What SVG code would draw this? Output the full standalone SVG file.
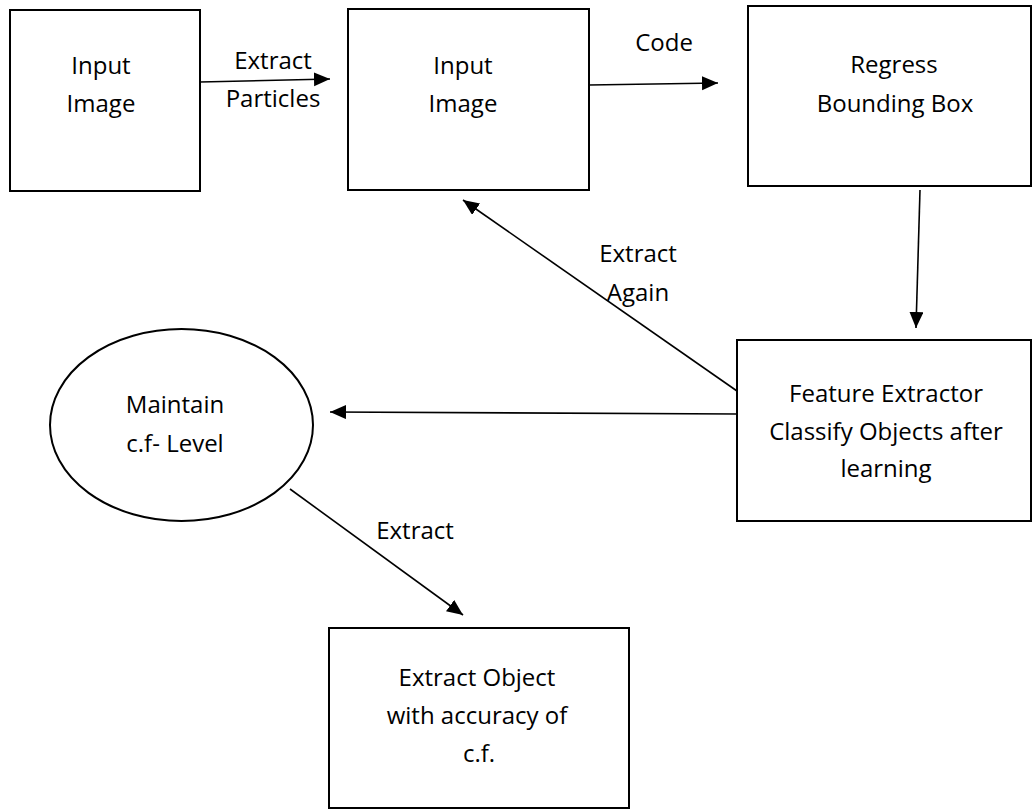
<svg xmlns="http://www.w3.org/2000/svg" width="1033" height="810" viewBox="0 0 1033 810">
  <defs>
    <marker id="arrow" markerUnits="userSpaceOnUse" markerWidth="17" markerHeight="15" refX="16" refY="7" orient="auto">
      <path d="M0,0 L16,7 L0,14 z" fill="#000"/>
    </marker>
    <style>
      .box { fill: #fff; stroke: #000; stroke-width: 2; }
      .conn { stroke: #000; stroke-width: 1.6; fill: none; marker-end: url(#arrow); }
      text { font-family: "Open Sans", "Liberation Sans", sans-serif; font-size: 24px; fill: #000; text-anchor: middle; }
    </style>
  </defs>
  <rect width="1033" height="810" fill="#fff"/>

  <g id="connectors">
    <line class="conn" x1="200" y1="82" x2="330" y2="79"/>
    <line class="conn" x1="589" y1="85" x2="718" y2="83"/>
    <line class="conn" x1="920" y1="190" x2="916" y2="328"/>
    <line class="conn" x1="737" y1="391" x2="463" y2="200"/>
    <line class="conn" x1="737" y1="414" x2="330" y2="412"/>
    <line class="conn" x1="290" y1="489" x2="463" y2="615"/>
    <text x="273" y="69">Extract</text>
    <text x="273" y="107">Particles</text>
    <text x="664" y="51">Code</text>
    <text x="638" y="262">Extract</text>
    <text x="638" y="301">Again</text>
    <text x="415" y="539">Extract</text>
  </g>

  <g id="input-image-1">
    <rect class="box" x="10" y="10" width="190" height="181"/>
    <text x="101" y="74">Input</text>
    <text x="101" y="112">Image</text>
  </g>

  <g id="input-image-2">
    <rect class="box" x="348" y="9" width="241" height="181"/>
    <text x="463" y="74">Input</text>
    <text x="463" y="112">Image</text>
  </g>

  <g id="regress-bounding-box">
    <rect class="box" x="748" y="6" width="283" height="180"/>
    <text x="894" y="73">Regress</text>
    <text x="895" y="112">Bounding Box</text>
  </g>

  <g id="feature-extractor">
    <rect class="box" x="737" y="340" width="294" height="181"/>
    <text x="886" y="402">Feature Extractor</text>
    <text x="886" y="440">Classify Objects after</text>
    <text x="886" y="477">learning</text>
  </g>

  <g id="maintain-cf-level">
    <ellipse class="box" cx="181.5" cy="425" rx="131.5" ry="96"/>
    <text x="175" y="413">Maintain</text>
    <text x="175" y="452">c.f- Level</text>
  </g>

  <g id="extract-object">
    <rect class="box" x="329" y="628" width="300" height="180"/>
    <text x="477" y="686">Extract Object</text>
    <text x="477" y="724">with accuracy of</text>
    <text x="479" y="762">c.f.</text>
  </g>
</svg>
